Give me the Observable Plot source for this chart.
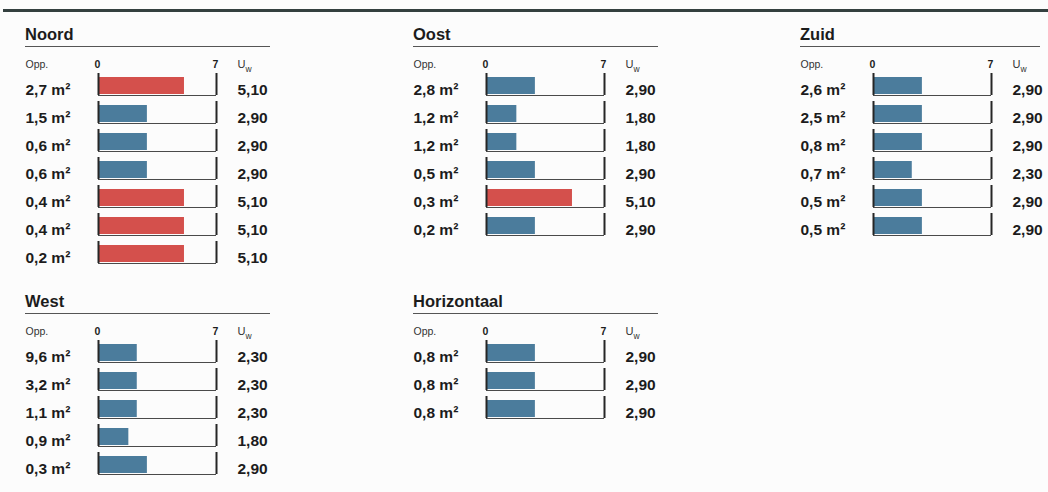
<!DOCTYPE html>
<html>
<head>
<meta charset="utf-8">
<script src="https://cdn.jsdelivr.net/npm/d3@7"></script>
<script src="https://cdn.jsdelivr.net/npm/@observablehq/plot@0.6"></script>
<style>
  html, body { margin: 0; padding: 0; background: #fcfcfc; }
  #root { position: relative; width: 1048px; height: 492px; background: #fcfcfc; overflow: hidden;
          font-family: "Liberation Sans", Arial, Helvetica, sans-serif; color: #1c1c1c; }
  .topline { position: absolute; left: 3px; right: 0; top: 9px; height: 2.5px; background: #34403f; }
  .panel { position: absolute; }
  .title { font-size: 16.5px; font-weight: bold; line-height: 16px; padding-bottom: 3.5px;
           border-bottom: 1.5px solid #555; color: #1c1c1c; }
  .panel svg { display: block; }
</style>
</head>
<body>
<div id="root"><div class="topline"></div></div>
<script>
// ---- data ----
const panelTitles = ["Noord", "Oost", "Zuid", "West", "Horizontaal"];
const noordOpp = [2.7, 1.5, 0.6, 0.6, 0.4, 0.4, 0.2];
const noordUw  = [5.10, 2.90, 2.90, 2.90, 5.10, 5.10, 5.10];
const oostOpp  = [2.8, 1.2, 1.2, 0.5, 0.3, 0.2];
const oostUw   = [2.90, 1.80, 1.80, 2.90, 5.10, 2.90];
const zuidOpp  = [2.6, 2.5, 0.8, 0.7, 0.5, 0.5];
const zuidUw   = [2.90, 2.90, 2.90, 2.30, 2.90, 2.90];
const westOpp  = [9.6, 3.2, 1.1, 0.9, 0.3];
const westUw   = [2.30, 2.30, 2.30, 1.80, 2.90];
const horOpp   = [0.8, 0.8, 0.8];
const horUw    = [2.90, 2.90, 2.90];
const axisTicks = [0, 7];
const oppLabel = "Opp.";

// ---- formatting ----
const nl = d3.formatLocale({decimal: ",", thousands: ".", grouping: [3], currency: ["€", ""]});
const f1 = nl.format(".1f"), f2 = nl.format(".2f");

const root = document.getElementById("root");
const STEP = 28, MT = 23, MB = 4, ML = 73, BARW = 118;

function panel(title, opp, uw, left, top, width) {
  const rows = opp.map((o, i) => ({i, opp: o, uw: uw[i]}));
  const n = rows.length;
  const div = document.createElement("div");
  div.className = "panel";
  div.style.left = left + "px";
  div.style.top = top + "px";
  div.style.width = width + "px";
  const t = document.createElement("div");
  t.className = "title";
  t.textContent = title;
  div.appendChild(t);
  const chart = Plot.plot({
    width, height: MT + n * STEP + MB,
    marginLeft: ML, marginRight: width - ML - BARW, marginTop: MT, marginBottom: MB,
    style: {background: "transparent", fontFamily: "'Liberation Sans', Arial, sans-serif", color: "#1c1c1c", overflow: "visible"},
    x: {domain: [axisTicks[0], axisTicks[1]]},
    y: {type: "band", domain: d3.range(n), paddingInner: 6 / 28, paddingOuter: 3 / 28, axis: null},
    color: {type: "threshold", domain: [5], range: ["#4b7c9c", "#d4504c"]},
    marks: [
      Plot.barX(rows, {x: "uw", y: "i", fill: "uw", insetTop: 4, insetBottom: 1}),
      Plot.ruleY(rows, {y: "i", x1: axisTicks[0], x2: axisTicks[1], dy: 11, stroke: "#4a4a4a", strokeWidth: 1.2}),
      Plot.tickX(rows, {x: axisTicks[0], y: "i", stroke: "#262626", strokeWidth: 2}),
      Plot.tickX(rows, {x: axisTicks[1], y: "i", stroke: "#262626", strokeWidth: 2}),
      Plot.text(rows, {x: axisTicks[0], y: "i", text: d => f1(d.opp) + " m²", textAnchor: "start", dx: -ML, dy: 6,
                       fontSize: 15.5, fontWeight: "bold", fill: "#1c1c1c"}),
      Plot.text(rows, {x: axisTicks[1], y: "i", text: d => f2(d.uw), textAnchor: "start", dx: 21, dy: 6,
                       fontSize: 15.5, fontWeight: "bold", fill: "#1c1c1c"}),
      Plot.axisX(axisTicks, {anchor: "top", tickSize: 0, tickPadding: 3, fontWeight: "bold", fontSize: 10.5, label: null, dx: -1}),
      Plot.text([oppLabel], {frameAnchor: "top-left", lineAnchor: "bottom", textAnchor: "start", dx: -ML, dy: -3, fontSize: 10.5, fill: "#333"}),
      Plot.text(["U"], {x: axisTicks[1], frameAnchor: "top", lineAnchor: "bottom", textAnchor: "start", dx: 21, dy: -3, fontSize: 11, fill: "#333"}),
      Plot.text(["w"], {x: axisTicks[1], frameAnchor: "top", lineAnchor: "bottom", textAnchor: "start", dx: 29, dy: 1, fontSize: 8.5, fill: "#333"})
    ]
  });
  div.appendChild(chart);
  root.appendChild(div);
}

panel(panelTitles[0], noordOpp, noordUw, 25, 26, 245);
panel(panelTitles[1], oostOpp, oostUw, 413, 26, 245);
panel(panelTitles[2], zuidOpp, zuidUw, 800, 26, 240);
panel(panelTitles[3], westOpp, westUw, 25, 293, 245);
panel(panelTitles[4], horOpp, horUw, 413, 293, 245);
</script>
</body>
</html>
